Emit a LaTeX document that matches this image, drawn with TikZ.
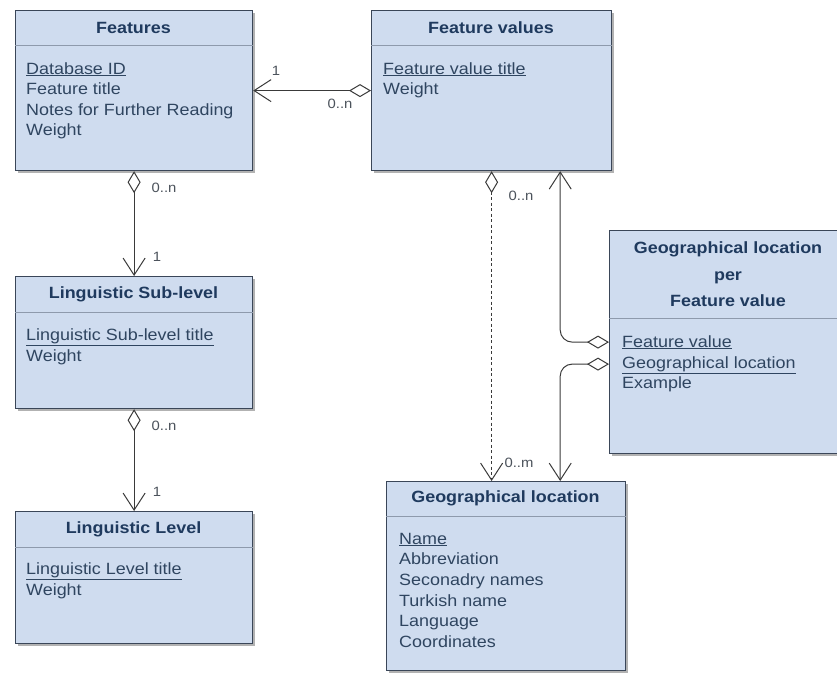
\documentclass[tikz,border=0pt]{standalone}
\usepackage{fontspec}
\setmainfont{Liberation Sans}[FakeStretch=1.1]
\usetikzlibrary{arrows.meta,calc,shadows}
\definecolor{boxfill}{HTML}{CFDCEF}
\definecolor{boxline}{HTML}{3A4658}
\definecolor{hdrline}{HTML}{8E9AAC}
\definecolor{titlecol}{HTML}{1F3A5E}
\definecolor{attrcol}{HTML}{2F4560}
\definecolor{labcol}{HTML}{4C535C}
\definecolor{conncol}{HTML}{3A3A3A}
\tikzset{
 umlbox/.style={draw=boxline, line width=1.2pt, fill=boxfill, anchor=north west, inner sep=0pt,
   drop shadow={shadow xshift=2pt, shadow yshift=-2.5pt, fill=black, opacity=.3}},
 hdr/.style={draw=hdrline, line width=1pt},
 ttl/.style={font=\fontsize{16.3}{19}\selectfont\bfseries, text=titlecol, anchor=base, inner sep=0pt},
 attr/.style={font=\fontsize{16.3}{19}\selectfont, text=attrcol, anchor=base west, inner sep=0pt},
 lab/.style={font=\fontsize{13.5}{15}\selectfont, text=labcol, inner sep=0pt},
 assoc/.style={draw=conncol, line width=1pt,
   {Diamond[fill=white, length=22pt, width=13pt, line width=1pt]}-{Straight Barb[length=17pt, width=22pt, line width=1pt]}},
 dashassoc/.style={assoc, dash pattern=on 3pt off 2.5pt, line width=1.5pt},
}
\newcommand\umlhdr[2]{\draw[hdr] ($(#1.north west)+(0,#2)$) -- ($(#1.north east)+(0,#2)$);}
\begin{document}
\begin{tikzpicture}[x=1pt,y=-1pt]
\useasboundingbox (0,0) rectangle (837,675);
\clip (0,0) rectangle (837,675);
% boxes
\node[umlbox, minimum width=237pt, minimum height=160pt] (feat) at (15,10) {};
\node[umlbox, minimum width=240pt, minimum height=160pt] (fv) at (371,10) {};
\node[umlbox, minimum width=237pt, minimum height=132pt] (lsub) at (15,276) {};
\node[umlbox, minimum width=237pt, minimum height=132pt] (llev) at (15,511) {};
\node[umlbox, minimum width=238pt, minimum height=223pt] (gpf) at (609,230) {};
\node[umlbox, minimum width=239pt, minimum height=189pt] (geo) at (386,481) {};
\umlhdr{feat}{35}
\umlhdr{fv}{35}
\umlhdr{lsub}{36}
\umlhdr{llev}{36}
\umlhdr{gpf}{88}
\umlhdr{geo}{35}
% titles
\node[ttl] (featT) at (133.5,33) {Features};
\node[ttl] (fvT) at (491,33) {Feature values};
\node[ttl] (lsubT) at (133.5,298) {Linguistic Sub-level};
\node[ttl] (llevT) at (133.5,533) {Linguistic Level};
\node[ttl] (gpfT1) at (728,253) {Geographical location};
\node[ttl] (gpfT2) at (728,280) {per};
\node[ttl] (gpfT3) at (728,306) {Feature value};
\node[ttl] (geoT) at (505.5,502) {Geographical location};
% attributes
\node[attr] (featA1) at (26,74) {\underline{Database ID}};
\node[attr] (featA2) at (26,94.5) {Feature title};
\node[attr] (featA3) at (26,115) {Notes for Further Reading};
\node[attr] (featA4) at (26,135.5) {Weight};
\node[attr] (fvA1) at (383,74) {\underline{Feature value title}};
\node[attr] (fvA2) at (383,94.5) {Weight};
\node[attr] (lsubA1) at (26,340) {\underline{Linguistic Sub-level title}};
\node[attr] (lsubA2) at (26,361) {Weight};
\node[attr] (llevA1) at (26,574) {\underline{Linguistic Level title}};
\node[attr] (llevA2) at (26,595) {Weight};
\node[attr] (gpfA1) at (622,347) {\underline{Feature value}};
\node[attr] (gpfA2) at (622,368) {\underline{Geographical location}};
\node[attr] (gpfA3) at (622,388.5) {Example};
\node[attr] (geoA1) at (399,544) {\underline{Name}};
\node[attr] (geoA2) at (399,564.7) {Abbreviation};
\node[attr] (geoA3) at (399,585.4) {Seconadry names};
\node[attr] (geoA4) at (399,606.1) {Turkish name};
\node[attr] (geoA5) at (399,626.8) {Language};
\node[attr] (geoA6) at (399,647.5) {Coordinates};
% connectors
\draw[assoc] (fv.west) -- (feat.east);
\draw[assoc] (feat.south) -- (lsub.north);
\draw[assoc] (lsub.south) -- (llev.north);
\draw[dashassoc] (fv.south) -- (fv.south |- geo.north);
\draw[assoc, rounded corners=12pt] (gpf.west) -| ($(fv.south east)+(-52,0)$);
\draw[assoc, rounded corners=12pt] ($(gpf.west)+(0,22)$) -| ($(geo.north east)+(-66,0)$);
% multiplicity labels
\node[lab] (m1) at (276,71) {1};
\node[lab] (m2) at (340,104) {0..n};
\node[lab] (m3) at (164,188) {0..n};
\node[lab] (m4) at (157,257) {1};
\node[lab] (m5) at (164,426) {0..n};
\node[lab] (m6) at (157,492) {1};
\node[lab] (m7) at (521,196) {0..n};
\node[lab] (m8) at (519,463) {0..m};
\end{tikzpicture}
\end{document}
